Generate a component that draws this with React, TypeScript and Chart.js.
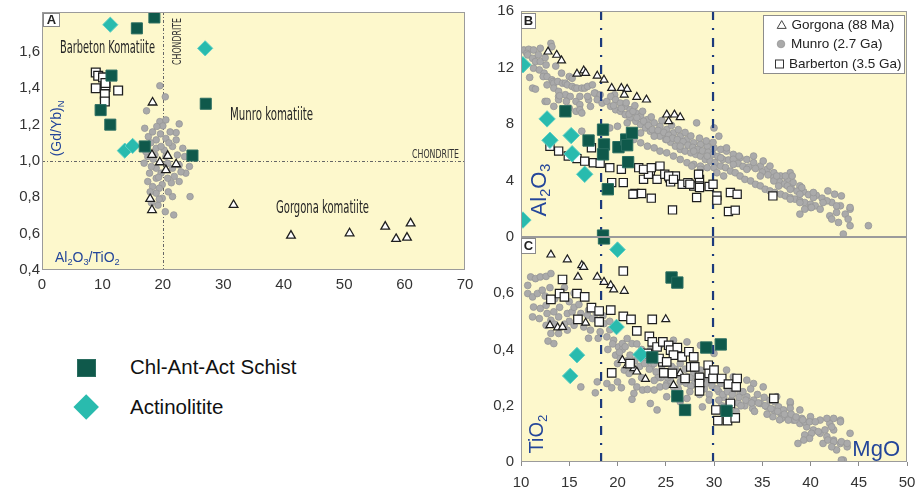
import React, { useEffect, useRef } from 'react';
import { Chart, registerables } from 'chart.js';

Chart.register(...registerables);

type P = [number, number];

const SANS = "'Liberation Sans', Arial, Helvetica, sans-serif";
const NARROW = "'Liberation Sans Narrow', 'DejaVu Sans Condensed', 'Liberation Sans', Arial, sans-serif";
const BLUE = '#24469a';
const PLOT_BG = '#fdf8cc';
const FRAME = '#9b9b9b';

// ---------------- Panel A : (Gd/Yb)N vs Al2O3/TiO2 ----------------
const aXTicks = [0, 10, 20, 30, 40, 50, 60, 70];
const aYTicks = [0.4, 0.6, 0.8, 1.0, 1.2, 1.4, 1.6];
const aChondriteRatio = 20;
const aChondriteGdYb = 1.0;

const aSchist: P[] = [[18.6, 1.79], [15.7, 1.73], [11.5, 1.47], [27.1, 1.315], [9.7, 1.28], [11.3, 1.2], [17.0, 1.08], [24.9, 1.03]];
const aActinolitite: P[] = [[11.3, 1.75], [27.0, 1.62], [13.7, 1.057], [15.0, 1.083]];
const aBarberton: P[] = [[8.9, 1.487], [9.3, 1.469], [10.1, 1.46], [8.9, 1.4], [10.5, 1.407], [10.4, 1.368], [10.4, 1.327], [12.6, 1.388], [10.5, 1.429]];
const aGorgona: P[] = [[18.3, 1.322], [18.2, 1.034], [20.8, 1.028], [19.5, 0.993], [22.2, 0.982], [20.5, 0.95], [17.9, 0.791], [18.2, 0.73], [31.7, 0.758], [41.2, 0.589], [50.9, 0.602], [56.8, 0.639], [58.6, 0.571], [60.4, 0.578], [61.0, 0.657]];
const aMunro: P[] = [[19.5, 1.414], [20.4, 1.353], [17.3, 1.276], [19.5, 1.217], [20.0, 1.193], [22.7, 1.204], [22.2, 1.156], [17.0, 1.18], [17.6, 1.134], [18.9, 1.116], [20.5, 1.124], [21.6, 1.08], [23.3, 1.07], [18.9, 1.07], [20.2, 1.06], [17.5, 1.024], [16.9, 0.988], [23.6, 1.024], [22.7, 0.978], [23.8, 0.933], [23.0, 0.94], [18.9, 0.96], [19.7, 0.933], [18.9, 0.905], [17.5, 0.887], [18.3, 0.859], [19.9, 0.87], [21.4, 0.88], [22.7, 0.887], [19.4, 0.85], [18.9, 0.823], [21.6, 0.804], [24.5, 0.804], [20.4, 0.721], [21.8, 0.703], [19.2, 0.757], [17.8, 0.933], [17.2, 1.051], [18.0, 1.1], [19.6, 1.149], [18.3, 1.16], [21.0, 1.1], [22.2, 1.116], [22.4, 1.033], [20.8, 0.987], [21.6, 0.96], [18.1, 0.97], [18.7, 1.033], [19.7, 1.08], [20.5, 1.025], [21.9, 0.915], [20.8, 0.905], [19.9, 0.795], [18.1, 0.77], [19.4, 0.79], [24.4, 0.97], [20.5, 1.226], [19.0, 1.19], [21.2, 1.16], [18.4, 1.01], [19.3, 0.91], [20.9, 0.83], [17.9, 0.83]];

// ---------------- Panels B & C : Al2O3 / TiO2 vs MgO ----------------
const mgoTicks = [10, 15, 20, 25, 30, 35, 40, 45, 50];
const bYTicks = [0, 4, 8, 12, 16];
const cYTicks = [0, 0.2, 0.4, 0.6];
const mgoRefLines = [18.3, 29.9];

const bSchist: P[] = [[14.6, 8.9], [17.0, 6.83], [18.5, 7.6], [18.6, 6.55], [18.5, 5.85], [20.1, 6.36], [20.9, 6.9], [21.0, 6.5], [21.5, 7.37], [21.1, 5.3], [19.0, 3.38], [18.5, 0.1]];
const bActinolitite: P[] = [[10.2, 12.2], [12.7, 8.36], [13.0, 6.85], [15.2, 7.18], [15.3, 5.89], [16.6, 4.44], [10.2, 1.2]];
const bBarberton: P[] = [[13.0, 6.43], [13.9, 6.08], [14.9, 5.73], [15.8, 5.55], [16.6, 5.37], [17.3, 6.32], [17.5, 5.26], [18.2, 5.22], [19.2, 4.91], [20.4, 4.79], [20.6, 3.85], [19.4, 3.85], [22.2, 4.91], [23.4, 4.67], [24.4, 5.02], [24.1, 4.08], [22.7, 4.08], [23.2, 4.44], [24.9, 4.44], [25.4, 4.2], [25.5, 3.9], [26.0, 4.32], [26.7, 3.73], [27.3, 3.85], [27.9, 3.61], [28.5, 4.08], [28.5, 3.61], [28.2, 2.8], [29.5, 3.57], [30.3, 2.91], [30.3, 2.61], [31.7, 3.15], [32.4, 3.03], [31.5, 1.81], [32.2, 1.9], [25.7, 1.92], [23.5, 2.75], [21.8, 3.08], [22.5, 3.08], [36.1, 2.91], [29.9, 3.73], [25.3, 4.32], [25.8, 4.08], [27.5, 3.73], [28.4, 4.44], [28.5, 3.5], [21.6, 3.03], [22.7, 4.79], [23.5, 4.91]];
const bGorgona: P[] = [[12.8, 13.12], [13.7, 12.89], [14.2, 12.49], [15.8, 11.55], [16.5, 11.78], [16.7, 11.6], [17.9, 11.41], [18.6, 11.13], [19.4, 10.54], [20.4, 10.54], [21.0, 10.47], [20.7, 10.07], [22.0, 9.91], [23.0, 9.72], [25.1, 8.66], [25.9, 8.66], [26.5, 8.47], [25.3, 8.19]];
const bMunro: P[] = [
  [10.3, 13.24], [10.8, 13.29], [11.3, 13.24], [12.0, 13.36], [13.1, 13.71], [13.2, 13.47], [10.6, 13.0], [10.7, 12.89], [11.2, 12.65], [11.5, 12.42], [12.0, 12.42], [12.6, 12.18], [11.3, 11.95], [11.9, 11.83], [12.4, 11.6], [11.2, 10.54], [11.5, 10.47], [12.3, 11.36], [12.7, 11.36], [13.2, 11.13], [13.3, 11.0], [13.4, 10.89], [13.8, 11.01], [14.3, 10.89], [14.6, 10.89], [14.8, 10.77], [15.3, 10.66], [15.6, 10.54], [15.8, 10.54], [16.3, 10.54], [16.6, 10.54], [16.9, 10.66], [17.4, 10.77], [17.7, 10.19], [15.0, 11.36], [15.3, 11.24], [12.7, 10.77], [13.4, 10.54], [13.9, 10.31], [14.6, 10.07], [15.1, 9.95], [15.7, 9.6], [16.1, 9.37], [17.0, 9.72], [17.6, 10.19], [18.2, 10.07], [19.7, 10.07], [12.5, 9.6], [12.7, 9.6], [13.9, 9.95], [14.7, 9.6], [16.1, 9.95], [15.0, 9.13], [15.7, 8.9], [16.1, 9.01], [16.3, 8.78], [17.2, 9.25], [13.4, 9.25], [13.9, 9.72], [16.9, 9.95], [17.9, 9.72], [18.4, 9.48], [18.9, 9.6], [16.3, 7.49], [19.2, 7.72], [11.8, 12.9], [12.5, 12.7], [13.6, 12.1], [14.2, 11.6], [14.0, 10.0], [10.9, 11.3],
  [19.3, 9.25], [19.8, 9.01], [20.3, 8.9], [20.8, 8.66], [21.3, 8.43], [21.9, 8.19], [22.4, 7.96], [22.9, 7.72], [23.4, 7.49], [23.9, 7.25], [24.4, 7.14], [25.0, 6.9], [25.5, 6.71], [26.0, 6.43], [26.5, 6.2], [27.0, 6.08], [27.6, 5.96], [28.1, 5.85], [28.6, 5.73], [29.1, 5.49], [29.6, 5.38], [30.1, 5.26], [30.7, 5.02], [31.2, 4.91], [31.7, 4.67], [32.2, 4.55], [32.7, 4.32], [33.2, 4.08], [33.8, 3.97], [34.3, 3.73], [34.8, 3.62], [35.3, 3.38], [35.8, 3.26], [36.3, 3.15], [36.9, 3.03], [37.4, 2.91], [37.9, 2.79], [38.4, 2.68], [38.9, 2.56], [39.4, 2.44], [40.0, 2.32], [40.5, 2.21],
  [19.3, 9.95], [19.8, 9.72], [20.3, 9.48], [20.8, 9.25], [21.3, 9.01], [21.9, 8.78], [22.4, 8.54], [23.1, 8.31], [23.8, 8.08], [24.4, 7.84], [25.1, 7.61], [25.8, 7.37], [26.5, 7.14], [27.2, 6.9], [27.9, 6.67], [28.6, 6.55], [29.3, 6.43], [30.0, 6.31], [30.7, 6.2], [31.3, 6.08], [32.0, 5.85], [32.7, 5.61], [33.4, 5.49], [34.1, 5.26], [34.8, 5.02], [35.5, 4.79], [36.2, 4.55], [36.9, 4.32], [37.6, 4.08], [38.2, 3.85], [38.9, 3.62],
  [19.6, 9.3], [20.4, 9.1], [21.2, 8.7], [21.6, 8.9], [22.0, 8.45], [22.7, 8.2], [23.2, 7.9], [23.6, 7.6], [24.2, 7.55], [24.8, 7.4], [25.3, 7.2], [25.7, 7.0], [26.2, 6.9], [26.8, 6.75], [27.3, 6.5], [27.8, 6.35], [28.3, 6.2], [28.8, 6.1], [29.4, 6.0], [29.9, 5.85], [30.4, 5.7], [30.9, 5.5], [31.5, 5.45], [32.0, 5.5], [32.5, 5.2], [33.0, 5.0], [33.6, 4.95], [34.3, 4.85], [35.0, 4.6], [35.6, 4.4], [36.2, 4.2], [36.8, 3.9], [37.3, 3.75], [38.0, 3.45], [38.6, 3.25], [39.3, 3.2], [39.8, 3.0], [40.6, 2.95], [41.2, 2.75], [42.2, 2.45], [20.9, 9.5], [21.8, 9.3], [22.6, 8.9], [23.5, 8.5], [24.6, 8.25], [25.6, 7.9], [26.3, 7.6], [27.0, 7.4], [27.6, 7.15], [28.5, 7.0], [29.2, 6.8], [29.9, 6.7],
  [20.0, 7.84], [21.0, 8.08], [22.4, 7.37], [23.8, 7.14], [25.1, 6.9], [26.5, 6.43], [27.9, 6.08], [29.3, 5.73], [30.7, 5.61], [32.0, 5.14], [33.4, 4.79], [34.8, 4.32], [36.2, 3.97], [37.6, 3.62], [38.9, 3.03], [40.3, 2.79], [41.7, 2.56], [43.1, 2.21],
  [21.7, 6.9], [22.4, 6.67], [23.1, 6.43], [23.8, 6.31], [24.4, 6.08], [25.1, 5.96], [25.8, 5.73], [26.5, 5.49], [27.2, 5.26], [27.9, 5.14], [28.6, 5.02], [29.3, 4.91], [30.0, 4.91],
  [28.2, 8.08], [30.0, 7.72], [30.5, 7.14], [31.3, 6.31], [32.6, 5.73], [34.1, 5.73], [35.1, 5.38], [35.8, 5.02], [37.9, 4.55], [38.1, 4.32], [30.3, 4.55], [31.0, 4.32], [28.6, 4.79], [27.7, 5.02], [37.9, 2.68], [38.9, 2.44], [40.0, 2.09], [41.0, 1.97], [42.0, 1.5], [42.7, 1.74], [44.1, 1.97],
  [36.5, 4.32], [37.4, 4.32], [36.7, 3.61], [37.9, 3.38], [39.1, 3.5], [40.3, 3.15], [41.8, 3.26], [42.5, 3.03], [43.2, 2.91], [41.3, 2.44], [40.1, 2.09], [39.4, 1.97], [42.7, 2.2], [44.1, 2.09], [43.6, 1.62], [43.9, 1.27], [42.2, 1.27], [42.9, 1.03], [44.1, 0.8], [46.0, 0.8], [43.4, 0.21], [38.9, 1.62],
];

const cSchist: P[] = [[18.6, 0.795], [25.6, 0.656], [26.2, 0.638], [29.2, 0.407], [30.7, 0.418], [23.6, 0.372], [26.2, 0.234], [27.0, 0.185], [31.3, 0.182]];
const cActinolitite: P[] = [[20.0, 0.755], [19.9, 0.48], [22.4, 0.382], [15.8, 0.38], [15.1, 0.306]];
const cBarberton: P[] = [[13.1, 0.578], [14.3, 0.649], [14.0, 0.599], [14.5, 0.587], [15.8, 0.599], [16.6, 0.587], [17.3, 0.549], [18.1, 0.537], [15.9, 0.507], [18.1, 0.498], [19.3, 0.54], [20.6, 0.679], [20.6, 0.518], [21.4, 0.507], [22.0, 0.466], [23.6, 0.507], [23.3, 0.447], [23.6, 0.427], [24.1, 0.409], [24.7, 0.427], [25.3, 0.415], [25.5, 0.398], [26.2, 0.407], [25.8, 0.38], [26.7, 0.374], [27.4, 0.392], [27.9, 0.374], [27.6, 0.338], [28.0, 0.338], [28.5, 0.301], [28.5, 0.279], [28.5, 0.253], [29.4, 0.344], [29.5, 0.315], [30.0, 0.327], [29.9, 0.297], [30.8, 0.297], [31.5, 0.277], [32.4, 0.297], [32.3, 0.267], [31.7, 0.208], [30.2, 0.185], [30.4, 0.147], [31.4, 0.147], [32.2, 0.157], [36.2, 0.226], [24.8, 0.317], [25.7, 0.315], [24.7, 0.356], [27.0, 0.297], [19.4, 0.317], [21.3, 0.35], [23.1, 0.386], [24.3, 0.368], [25.1, 0.356]];
const cGorgona: P[] = [[13.1, 0.737], [14.8, 0.72], [16.3, 0.699], [16.5, 0.693], [15.9, 0.658], [17.9, 0.658], [18.6, 0.64], [19.3, 0.628], [19.6, 0.613], [20.7, 0.608], [13.0, 0.486], [13.8, 0.478], [14.3, 0.48], [25.0, 0.507], [20.5, 0.362], [21.0, 0.344], [21.7, 0.333], [22.0, 0.321], [22.9, 0.295], [25.8, 0.273], [26.5, 0.315], [16.7, 0.495]];
const cMunro: P[] = [
  [10.7, 0.628], [11.0, 0.658], [11.5, 0.652], [12.0, 0.658], [12.6, 0.66], [13.1, 0.67], [10.7, 0.599], [11.2, 0.587], [11.7, 0.599], [12.2, 0.611], [11.3, 0.551], [12.0, 0.546], [12.6, 0.557], [11.2, 0.516], [11.9, 0.51], [12.7, 0.528], [13.4, 0.534], [13.1, 0.504], [13.9, 0.516], [14.8, 0.528], [15.3, 0.534], [16.2, 0.528], [16.9, 0.522], [17.4, 0.51], [17.9, 0.504], [18.6, 0.492], [12.6, 0.486], [13.1, 0.457], [13.4, 0.421], [13.9, 0.457], [14.8, 0.469], [15.5, 0.486], [16.5, 0.48], [17.2, 0.469], [18.2, 0.463], [18.9, 0.445], [19.6, 0.433], [20.1, 0.409], [20.5, 0.421], [21.0, 0.439], [21.5, 0.421], [19.8, 0.38], [20.3, 0.368], [20.7, 0.327], [21.2, 0.315], [21.5, 0.285], [22.0, 0.267], [22.6, 0.256], [23.1, 0.258], [23.8, 0.256], [24.4, 0.267], [25.1, 0.279], [25.8, 0.267], [26.5, 0.285], [27.2, 0.303], [27.9, 0.315], [28.6, 0.327], [29.3, 0.303], [30.0, 0.291], [30.7, 0.279], [31.3, 0.267], [32.0, 0.256], [32.7, 0.244], [33.4, 0.232], [34.1, 0.22], [34.8, 0.208], [35.5, 0.196], [36.2, 0.185], [36.9, 0.173], [37.6, 0.161], [38.2, 0.149], [38.9, 0.137], [39.6, 0.125], [40.3, 0.114], [41.0, 0.102], [41.7, 0.09], [42.4, 0.078], [43.1, 0.066], [43.8, 0.054], [43.4, 0.007], [44.1, 0.102], [16.2, 0.267], [17.9, 0.285], [18.9, 0.279], [20.0, 0.285], [21.7, 0.244], [23.4, 0.208], [24.1, 0.185], [28.8, 0.196], [27.2, 0.226], [25.1, 0.232], [26.5, 0.214], [23.4, 0.398], [24.4, 0.415], [25.8, 0.433], [27.2, 0.427], [28.6, 0.415], [30.0, 0.386], [31.3, 0.327], [32.0, 0.303], [33.4, 0.291], [34.1, 0.279], [35.1, 0.267], [36.5, 0.232], [37.9, 0.208], [38.9, 0.185], [40.0, 0.161], [41.0, 0.149], [42.0, 0.137], [43.1, 0.149], [42.4, 0.114], [41.3, 0.066], [42.7, 0.043],
  [36.3, 0.214], [36.7, 0.196], [37.2, 0.185], [37.9, 0.214], [37.9, 0.191], [36.1, 0.161], [37.0, 0.155], [37.7, 0.149], [38.4, 0.149], [39.1, 0.155], [39.4, 0.143], [39.9, 0.143], [40.5, 0.143], [41.7, 0.155], [42.4, 0.155], [43.1, 0.143], [42.2, 0.125], [41.5, 0.114], [40.8, 0.108], [40.1, 0.102], [39.4, 0.096], [39.9, 0.084], [39.3, 0.078], [38.7, 0.066], [41.8, 0.078], [42.4, 0.072], [43.2, 0.072], [43.8, 0.066], [42.2, 0.054], [43.2, 0.007],
  [22.0, 0.42], [22.5, 0.4], [23.0, 0.36], [23.5, 0.34], [24.0, 0.32], [24.5, 0.3], [25.0, 0.31], [25.5, 0.29], [26.0, 0.33], [26.5, 0.35], [27.0, 0.33], [27.5, 0.3], [28.0, 0.28], [29.0, 0.26], [29.5, 0.24], [30.5, 0.25], [31.0, 0.23], [31.8, 0.22], [32.5, 0.21], [33.0, 0.25], [33.8, 0.26], [34.5, 0.24], [35.2, 0.23], [35.8, 0.22], [34.0, 0.19], [33.2, 0.2], [32.3, 0.18], [31.5, 0.19], [30.8, 0.2], [21.0, 0.36], [20.5, 0.4], [22.3, 0.34], [19.2, 0.47], [19.0, 0.4], [18.0, 0.44], [17.0, 0.44], [15.0, 0.5], [14.0, 0.55], [13.5, 0.58], [12.5, 0.59], [15.5, 0.55], [16.0, 0.51], [14.5, 0.49], [13.5, 0.49], [12.8, 0.43], [19.4, 0.264], [20.4, 0.264], [21.5, 0.223], [17.7, 0.246],
  [19.5, 0.42], [20.2, 0.39], [20.8, 0.41], [21.3, 0.38], [21.8, 0.36], [22.2, 0.38], [22.8, 0.35], [23.3, 0.33], [23.8, 0.35], [24.2, 0.3], [24.6, 0.33], [25.2, 0.3], [25.6, 0.34], [26.1, 0.31], [26.7, 0.3], [27.1, 0.28], [27.6, 0.27], [28.2, 0.3], [28.7, 0.29], [29.2, 0.28], [29.8, 0.27], [30.3, 0.26], [30.9, 0.24], [31.4, 0.25], [31.9, 0.24], [32.6, 0.23], [33.3, 0.22], [33.9, 0.21], [34.6, 0.21], [35.3, 0.2], [35.9, 0.19], [36.6, 0.18], [37.3, 0.17], [38.0, 0.17], [38.5, 0.16], [39.2, 0.15], [20.0, 0.35], [21.5, 0.33], [22.5, 0.3], [23.8, 0.29], [25.0, 0.27], [26.3, 0.26], [27.5, 0.25], [28.5, 0.24], [29.5, 0.22], [30.5, 0.22], [31.5, 0.21], [32.8, 0.2], [34.2, 0.18], [35.5, 0.17], [36.8, 0.15], [13.0, 0.62], [14.0, 0.6], [15.0, 0.57], [16.0, 0.56], [17.0, 0.54], [17.8, 0.53], [18.5, 0.52], [19.2, 0.5], [14.5, 0.62], [15.5, 0.6],
];

// ---------------- styles ----------------
const GRAY_BG = '#aaaaaa';
const GRAY_BD = '#979797';
const GREEN_BG = '#0f594b';
const GREEN_BD = '#2a6d60';
const CYAN_BG = '#29bbae';
const CYAN_BD = '#5ccfc4';
const INK = '#1e1e1e';

function ds(data: P[], style: string, r: number, bg: string, bd: string, bw: number, order: number) {
  return {
    data: data.map(([x, y]) => ({ x, y })),
    pointStyle: style,
    pointRadius: r,
    pointHoverRadius: r,
    pointBackgroundColor: bg,
    pointBorderColor: bd,
    pointBorderWidth: bw,
    showLine: false,
    order,
  };
}

const comma = (v: number) => (v === 0 ? '0' : Number(v).toFixed(1).replace('.', ','));

type Seg = [string, number];
function drawRich(ctx: CanvasRenderingContext2D, segs: Seg[], x: number, y: number, size: number, fam: string, color: string, align: string, rot: number) {
  ctx.save();
  ctx.translate(x, y);
  if (rot) ctx.rotate(rot);
  let w = 0;
  for (const [t, s] of segs) {
    ctx.font = `${s ? size * 0.66 : size}px ${fam}`;
    w += ctx.measureText(t).width;
  }
  let cx = align === 'left' ? 0 : align === 'center' ? -w / 2 : -w;
  ctx.fillStyle = color;
  ctx.textAlign = 'left';
  ctx.textBaseline = 'alphabetic';
  for (const [t, s] of segs) {
    ctx.font = `${s ? size * 0.66 : size}px ${fam}`;
    ctx.fillText(t, cx, s ? size * 0.2 : 0);
    cx += ctx.measureText(t).width;
  }
  ctx.restore();
}

function txt(ctx: CanvasRenderingContext2D, t: string, x: number, y: number, font: string, color: string, maxW: number, align: CanvasTextAlign, rot: number) {
  ctx.save();
  ctx.translate(x, y);
  if (rot) ctx.rotate(rot);
  ctx.font = font;
  ctx.fillStyle = color;
  ctx.textAlign = align;
  ctx.textBaseline = 'alphabetic';
  ctx.fillText(t, 0, 0, maxW);
  ctx.restore();
}

function panelTag(ctx: CanvasRenderingContext2D, x: number, y: number, w: number, h: number, t: string) {
  ctx.save();
  ctx.fillStyle = '#ffffff';
  ctx.fillRect(x, y, w, h);
  ctx.strokeStyle = '#8a8a8a';
  ctx.lineWidth = 1;
  ctx.strokeRect(x + 0.5, y + 0.5, w - 1, h - 1);
  ctx.fillStyle = '#222';
  ctx.font = `bold 13px ${SANS}`;
  ctx.textAlign = 'center';
  ctx.textBaseline = 'middle';
  ctx.fillText(t, x + w / 2, y + h / 2 + 0.5);
  ctx.restore();
}

function panelPlugin(id: string, linesAfter: number, drawLines: (c: any) => void, overlay: (c: any) => void) {
  const lines = (c: any) => {
    const { ctx, chartArea: a } = c;
    ctx.save();
    ctx.beginPath();
    ctx.rect(a.left, a.top, a.right - a.left, a.bottom - a.top);
    ctx.clip();
    drawLines(c);
    ctx.restore();
  };
  return {
    id,
    beforeDraw(c: any) {
      const { ctx, chartArea: a } = c;
      ctx.save();
      ctx.fillStyle = PLOT_BG;
      ctx.fillRect(a.left, a.top, a.right - a.left, a.bottom - a.top);
      ctx.restore();
    },
    beforeDatasetsDraw(c: any) {
      if (linesAfter < 0) lines(c);
    },
    afterDatasetDraw(c: any, args: any) {
      if (args.index === linesAfter) lines(c);
    },
    afterDraw(c: any) {
      const { ctx, chartArea: a } = c;
      ctx.save();
      ctx.strokeStyle = FRAME;
      ctx.lineWidth = 1;
      ctx.strokeRect(Math.round(a.left) + 0.5, Math.round(a.top) + 0.5, Math.round(a.right - a.left) - 1, Math.round(a.bottom - a.top) - 1);
      ctx.restore();
      ctx.save();
      overlay(c);
      ctx.restore();
    },
  };
}

function mgoLines(c: any) {
  const { ctx, chartArea: a, scales } = c;
  ctx.strokeStyle = '#1c3a7c';
  ctx.lineWidth = 2.2;
  ctx.setLineDash([9, 8, 2, 8]);
  for (const v of mgoRefLines) {
    const px = scales.x.getPixelForValue(v);
    ctx.beginPath();
    ctx.moveTo(px, a.top);
    ctx.lineTo(px, a.bottom);
    ctx.stroke();
  }
}

const tickFont = { family: SANS, size: 15 };
const baseOpts = {
  animation: false,
  responsive: false,
  maintainAspectRatio: false,
  events: [],
};

function cfgA(): any {
  return {
    type: 'scatter',
    data: {
      datasets: [
        ds(aMunro, 'circle', 3.3, GRAY_BG, GRAY_BD, 0.8, 5),
        ds(aGorgona, 'triangle', 5, '#ffffff', INK, 1.3, 4),
        ds(aBarberton, 'rect', 6.2, '#ffffff', INK, 1.3, 3),
        ds(aActinolitite, 'rectRot', 7.6, CYAN_BG, CYAN_BD, 1, 2),
        ds(aSchist, 'rect', 7.8, GREEN_BG, GREEN_BD, 1, 1),
      ],
    },
    options: {
      ...baseOpts,
      layout: { autoPadding: false, padding: { left: 0, top: 12, right: 15, bottom: 0 } },
      plugins: { legend: { display: false }, tooltip: { enabled: false } },
      scales: {
        x: {
          type: 'linear', min: 0, max: 70,
          afterBuildTicks: (s: any) => { s.ticks = aXTicks.map((v) => ({ value: v })); },
          afterFit: (s: any) => { s.height = 30; s.paddingLeft = 0; s.paddingRight = 0; },
          grid: { display: false, drawTicks: false }, border: { display: false },
          ticks: { padding: 6, color: '#333', font: tickFont, maxRotation: 0, autoSkip: false, callback: (v: number) => String(v) },
        },
        y: {
          type: 'linear', min: 0.4, max: 1.82,
          afterBuildTicks: (s: any) => { s.ticks = aYTicks.map((v) => ({ value: v })); },
          afterFit: (s: any) => { s.width = 42; s.paddingTop = 0; s.paddingBottom = 0; },
          grid: { display: false, drawTicks: false }, border: { display: false },
          ticks: { padding: 2, color: '#333', font: tickFont, autoSkip: false, callback: (v: number) => comma(v) },
        },
      },
    },
    plugins: [
      panelPlugin('panelA', -1, (c: any) => {
        const { ctx, chartArea: a, scales } = c;
        ctx.strokeStyle = '#666';
        ctx.lineWidth = 1;
        ctx.setLineDash([3, 2, 1, 2]);
        const px = Math.round(scales.x.getPixelForValue(aChondriteRatio)) + 0.5;
        const py = Math.round(scales.y.getPixelForValue(aChondriteGdYb)) + 0.5;
        ctx.beginPath();
        ctx.moveTo(px, a.top); ctx.lineTo(px, a.bottom);
        ctx.moveTo(a.left, py); ctx.lineTo(a.right, py);
        ctx.stroke();
      }, (c: any) => {
        const ctx = c.ctx;
        panelTag(ctx, 43, 13, 17, 14, 'A');
        txt(ctx, 'Barbeton Komatiite', 60, 53, `17px ${NARROW}`, '#262626', 95, 'left', 0);
        txt(ctx, 'Munro komatiite', 230, 120, `17px ${NARROW}`, '#262626', 83, 'left', 0);
        txt(ctx, 'Gorgona komatiite', 276, 213, `17px ${NARROW}`, '#262626', 93, 'left', 0);
        txt(ctx, 'CHONDRITE', 181, 41.5, `12.5px ${NARROW}`, '#333', 47, 'center', -Math.PI / 2);
        txt(ctx, 'CHONDRITE', 412, 158, `12.5px ${NARROW}`, '#333', 47, 'left', 0);
        drawRich(ctx, [['(Gd/Yb)', 0], ['N', 1]], 61, 128.5, 14, SANS, BLUE, 'center', -Math.PI / 2);
        drawRich(ctx, [['Al', 0], ['2', 1], ['O', 0], ['3', 1], ['/TiO', 0], ['2', 1]], 55, 262, 14, SANS, BLUE, 'left', 0);
      }),
    ],
  };
}

function cfgB(): any {
  return {
    type: 'scatter',
    data: {
      datasets: [
        ds(bMunro, 'circle', 3.4, GRAY_BG, GRAY_BD, 0.8, 5),
        ds(bGorgona, 'triangle', 4.6, '#ffffff', INK, 1.2, 4),
        ds(bBarberton, 'rect', 5.8, '#ffffff', INK, 1.2, 3),
        ds(bActinolitite, 'rectRot', 8.2, CYAN_BG, CYAN_BD, 1, 2),
        ds(bSchist, 'rect', 8, GREEN_BG, GREEN_BD, 1, 1),
      ],
    },
    options: {
      ...baseOpts,
      layout: { autoPadding: false, padding: { left: 0, top: 11, right: 12, bottom: 13 } },
      plugins: { legend: { display: false }, tooltip: { enabled: false } },
      scales: {
        x: { type: 'linear', min: 10, max: 50, display: false },
        y: {
          type: 'linear', min: 0, max: 16,
          afterBuildTicks: (s: any) => { s.ticks = bYTicks.map((v) => ({ value: v })); },
          afterFit: (s: any) => { s.width = 41; s.paddingTop = 0; s.paddingBottom = 0; },
          grid: { display: false, drawTicks: false }, border: { display: false },
          ticks: { padding: 7, color: '#333', font: tickFont, autoSkip: false, callback: (v: number) => String(v) },
        },
      },
    },
    plugins: [
      panelPlugin('panelB', 0, mgoLines, (c: any) => {
        const ctx = c.ctx;
        panelTag(ctx, 41, 13, 15, 16, 'B');
        ctx.fillStyle = '#ffffff';
        ctx.fillRect(283, 15, 142, 59);
        ctx.strokeStyle = '#8c8c8c';
        ctx.lineWidth = 1;
        ctx.strokeRect(283.5, 15.5, 141, 58);
        const tx = 301.7, ty = 25.8, tr = 5.2;
        ctx.beginPath();
        ctx.moveTo(tx, ty - tr);
        ctx.lineTo(tx + tr * Math.sin(2 * Math.PI / 3), ty - tr * Math.cos(2 * Math.PI / 3));
        ctx.lineTo(tx + tr * Math.sin(4 * Math.PI / 3), ty - tr * Math.cos(4 * Math.PI / 3));
        ctx.closePath();
        ctx.fillStyle = '#ffffff'; ctx.fill();
        ctx.strokeStyle = '#444'; ctx.lineWidth = 1; ctx.stroke();
        ctx.beginPath();
        ctx.arc(301, 44, 3.8, 0, Math.PI * 2);
        ctx.fillStyle = GRAY_BG; ctx.fill();
        ctx.strokeStyle = GRAY_BD; ctx.lineWidth = 0.8; ctx.stroke();
        ctx.fillStyle = '#ffffff';
        ctx.fillRect(295, 59.5, 9, 9);
        ctx.strokeStyle = '#333'; ctx.lineWidth = 1;
        ctx.strokeRect(295.5, 60, 8, 8);
        ctx.fillStyle = '#222';
        ctx.font = `13.5px ${SANS}`;
        ctx.textAlign = 'left';
        ctx.textBaseline = 'middle';
        ctx.fillText('Gorgona (88 Ma)', 311.5, 25);
        ctx.fillText('Munro (2.7 Ga)', 311, 44.5);
        ctx.fillText('Barberton (3.5 Ga)', 309, 64);
        drawRich(ctx, [['Al', 0], ['2', 1], ['O', 0], ['3', 1]], 66, 190, 22, SANS, BLUE, 'center', -Math.PI / 2);
      }),
    ],
  };
}

function cfgC(): any {
  return {
    type: 'scatter',
    data: {
      datasets: [
        ds(cMunro, 'circle', 3.4, GRAY_BG, GRAY_BD, 0.8, 5),
        ds(cGorgona, 'triangle', 4.6, '#ffffff', INK, 1.2, 4),
        ds(cBarberton, 'rect', 6, '#ffffff', INK, 1.2, 3),
        ds(cActinolitite, 'rectRot', 7.8, CYAN_BG, CYAN_BD, 1, 2),
        ds(cSchist, 'rect', 8, GREEN_BG, GREEN_BD, 1, 1),
      ],
    },
    options: {
      ...baseOpts,
      layout: { autoPadding: false, padding: { left: 0, top: 0, right: 12, bottom: 0 } },
      plugins: { legend: { display: false }, tooltip: { enabled: false } },
      scales: {
        x: {
          type: 'linear', min: 10, max: 50,
          afterBuildTicks: (s: any) => { s.ticks = mgoTicks.map((v) => ({ value: v })); },
          afterFit: (s: any) => { s.height = 28; s.paddingLeft = 0; s.paddingRight = 0; },
          grid: { display: true, drawOnChartArea: false, drawTicks: true, tickLength: 4, color: '#8a8a8a' },
          border: { display: false },
          ticks: { padding: 8, color: '#333', font: tickFont, maxRotation: 0, autoSkip: false, callback: (v: number) => String(v) },
        },
        y: {
          type: 'linear', min: 0, max: 0.8,
          afterBuildTicks: (s: any) => { s.ticks = cYTicks.map((v) => ({ value: v })); },
          afterFit: (s: any) => { s.width = 41; s.paddingTop = 0; s.paddingBottom = 0; },
          grid: { display: false, drawTicks: false }, border: { display: false },
          ticks: { padding: 7, color: '#333', font: tickFont, autoSkip: false, callback: (v: number) => comma(v) },
        },
      },
    },
    plugins: [
      panelPlugin('panelC', 0, mgoLines, (c: any) => {
        const ctx = c.ctx;
        panelTag(ctx, 41, 1, 15, 16, 'C');
        drawRich(ctx, [['TiO', 0], ['2', 1]], 63, 197, 20, SANS, BLUE, 'center', -Math.PI / 2);
        drawRich(ctx, [['MgO', 0]], 420, 219, 22, SANS, BLUE, 'right', 0);
      }),
    ],
  };
}

export default function App() {
  const aRef = useRef<HTMLCanvasElement>(null);
  const bRef = useRef<HTMLCanvasElement>(null);
  const cRef = useRef<HTMLCanvasElement>(null);

  useEffect(() => {
    const charts = [
      new Chart(aRef.current as HTMLCanvasElement, cfgA()),
      new Chart(bRef.current as HTMLCanvasElement, cfgB()),
      new Chart(cRef.current as HTMLCanvasElement, cfgC()),
    ];
    return () => charts.forEach((c) => c.destroy());
  }, []);

  const legendText: React.CSSProperties = {
    position: 'absolute', left: 130, font: `20.5px ${SANS}`, color: '#111', lineHeight: '24px', whiteSpace: 'nowrap',
  };

  return (
    <div style={{ position: 'absolute', left: 0, top: 0, width: 919, height: 490, background: '#ffffff', overflow: 'hidden' }}>
      <canvas ref={aRef} width={480} height={300} style={{ position: 'absolute', left: 0, top: 0 }} />
      <canvas ref={bRef} width={439} height={250} style={{ position: 'absolute', left: 480, top: 0 }} />
      <canvas ref={cRef} width={439} height={253} style={{ position: 'absolute', left: 480, top: 237 }} />
      <div style={{ position: 'absolute', left: 77, top: 359, width: 19, height: 18, background: GREEN_BG, border: `1px solid ${GREEN_BD}`, boxSizing: 'border-box' }} />
      <div style={{ ...legendText, top: 355 }}>Chl-Ant-Act Schist</div>
      <div style={{ position: 'absolute', left: 77, top: 398, width: 18.4, height: 18.4, background: CYAN_BG, transform: 'rotate(45deg)' }} />
      <div style={{ ...legendText, top: 395 }}>Actinolitite</div>
    </div>
  );
}
